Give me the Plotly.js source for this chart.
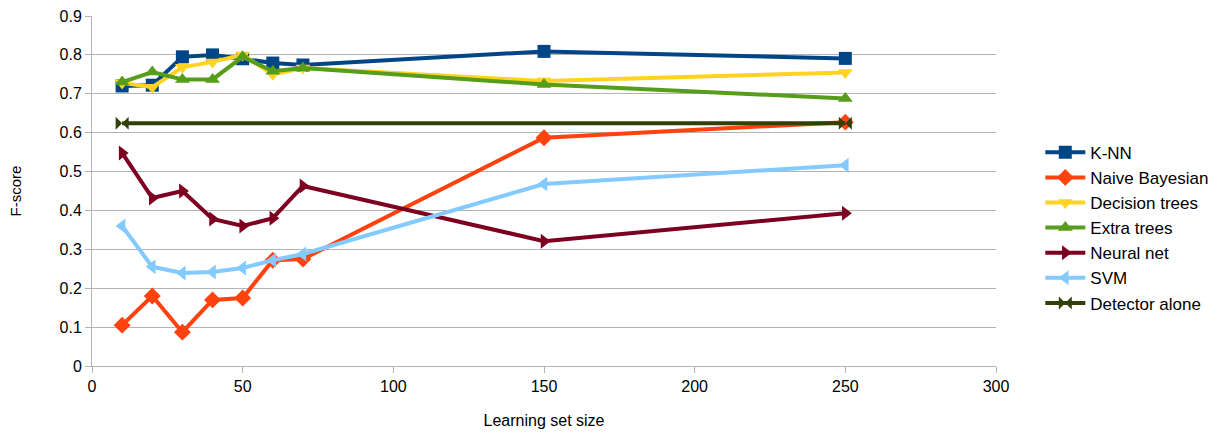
<!DOCTYPE html>
<html><head><meta charset="utf-8">
<script src="https://cdn.plot.ly/plotly-3.0.1.min.js"></script>
<style>html,body{margin:0;padding:0;background:#fff}#c{width:1221px;height:434px}</style>
</head><body><div id="c"></div>
<script>
const sizes = [10, 20, 30, 40, 50, 60, 70, 150, 250];
const knn = [0.720, 0.722, 0.795, 0.800, 0.790, 0.779, 0.774, 0.809, 0.791];
const naiveBayes = [0.105, 0.180, 0.087, 0.170, 0.175, 0.272, 0.275, 0.587, 0.627];
const decisionTrees = [0.728, 0.717, 0.768, 0.782, 0.800, 0.750, 0.766, 0.733, 0.755];
const extraTrees = [0.730, 0.756, 0.737, 0.737, 0.795, 0.758, 0.766, 0.724, 0.688];
const neuralNet = [0.548, 0.432, 0.450, 0.378, 0.360, 0.380, 0.463, 0.321, 0.393];
const svm = [0.360, 0.255, 0.239, 0.242, 0.252, 0.272, 0.288, 0.468, 0.516];
const detectorSizes = [10, 250];
const detector = [0.624, 0.624];
const names = ["K-NN", "Naive Bayesian", "Decision trees", "Extra trees", "Neural net", "SVM", "Detector alone"];
const colors = ["#004586", "#ff420e", "#ffd320", "#579d1c", "#7e0021", "#83caff", "#314004"];
const symbols = ["square", "diamond", "triangle-down", "triangle-up", "triangle-right", "triangle-left", "bowtie"];
const series = [knn, naiveBayes, decisionTrees, extraTrees, neuralNet, svm, detector];
const xs = [sizes, sizes, sizes, sizes, sizes, sizes, detectorSizes];

const traces = series.map((ys, i) => ({
  x: xs[i], y: ys, name: names[i], type: "scatter", mode: "lines+markers",
  line: {color: colors[i], width: 4},
  marker: {symbol: symbols[i], size: 13, color: colors[i], line: {width: 0}}
}));

const layout = {
  width: 1221, height: 434,
  margin: {l: 92, r: 225, t: 16, b: 68, autoexpand: false},
  paper_bgcolor: "#fff", plot_bgcolor: "#fff",
  font: {family: "Liberation Sans, Arial, sans-serif", size: 16, color: "#000"},
  showlegend: true,
  legend: {x: 1.049, y: 0.395, xanchor: "left", yanchor: "middle", font: {size: 17}, tracegroupgap: 0, itemwidth: 40},
  xaxis: {
    range: [0, 300], dtick: 50, showgrid: false, zeroline: false,
    showline: true, linecolor: "#b3b3b3", linewidth: 1,
    ticks: "outside", ticklen: 6, tickcolor: "#b3b3b3",
    tickfont: {size: 16},
    title: {text: "Learning set size", font: {size: 16}, standoff: 20}
  },
  yaxis: {
    range: [0, 0.9], dtick: 0.1, tickformat: ".1~f",
    showgrid: true, gridcolor: "#b3b3b3", gridwidth: 1, zeroline: false,
    showline: true, linecolor: "#b3b3b3", linewidth: 1,
    ticks: "outside", ticklen: 6, tickcolor: "#b3b3b3",
    tickfont: {size: 16},
    title: {text: "F-score", font: {size: 15}, standoff: 34}
  }
};
Plotly.newPlot("c", traces, layout, {displayModeBar: false});
</script></body></html>
